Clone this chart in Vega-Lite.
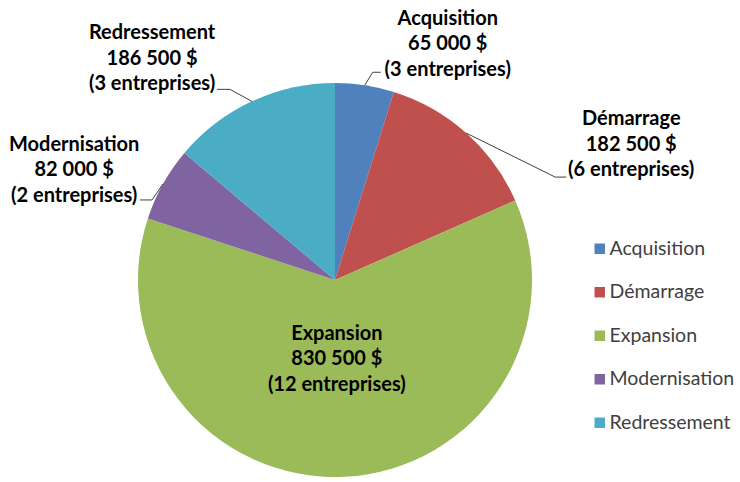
{
  "$schema": "https://vega.github.io/schema/vega-lite/v6.json",
  "autosize": {"type": "none"},
  "padding": {"left": 85, "top": 80, "right": 155, "bottom": 2},
  "width": 500,
  "height": 400,
  "background": "white",
  "config": {
    "view": {"stroke": null},
    "font": "Lato",
    "locale": {"number": {"decimal": ",", "thousands": " ", "grouping": [3], "currency": ["", " $"]}}
  },
  "data": {
    "values": [
      {"categorie": "Acquisition", "montant": 65000, "entreprises": 3},
      {"categorie": "Démarrage", "montant": 182500, "entreprises": 6},
      {"categorie": "Expansion", "montant": 830500, "entreprises": 12},
      {"categorie": "Modernisation", "montant": 82000, "entreprises": 2},
      {"categorie": "Redressement", "montant": 186500, "entreprises": 3}
    ]
  },
  "transform": [
    {"calculate": "datum.categorie + '\\n' + format(datum.montant, ',') + ' $\\n(' + datum.entreprises + ' entreprises)'", "as": "etiquette"}
  ],
  "layer": [
    {
      "mark": {"type": "arc", "outerRadius": 197},
      "encoding": {
        "theta": {"field": "montant", "type": "quantitative", "stack": true},
        "order": {"field": "categorie", "type": "ordinal", "sort": "ascending"},
        "color": {
          "field": "categorie",
          "type": "nominal",
          "scale": {
            "domain": ["Acquisition", "Démarrage", "Expansion", "Modernisation", "Redressement"],
            "range": ["#4F81BD", "#C0504D", "#9BBB59", "#8064A2", "#4BACC6"]
          },
          "legend": {
            "title": null,
            "orient": "none",
            "legendX": 505,
            "legendY": 159,
            "padding": 0,
            "symbolType": "square",
            "symbolSize": 110,
            "symbolStrokeWidth": 0,
            "labelFont": "Lato",
            "labelFontSize": 19.5,
            "labelColor": "#404040",
            "labelOffset": 0,
            "labelLimit": 200,
            "rowPadding": 22.5
          }
        }
      }
    },
    {
      "mark": {"type": "text", "radius": 230, "dx": 78, "dy": -34, "font": "Lato", "fontSize": 20, "fontWeight": "bold", "lineBreak": "\n", "lineHeight": 25.5, "align": "center", "baseline": "middle", "color": "#000000"},
      "encoding": {
        "theta": {"field": "montant", "type": "quantitative", "stack": true},
        "order": {"field": "categorie", "type": "ordinal", "sort": "ascending"},
        "text": {"condition": {"test": "datum.categorie === 'Acquisition'", "field": "etiquette"}, "value": ""}
      }
    },
    {
      "mark": {"type": "text", "radius": 230, "dx": 143, "dy": 11, "font": "Lato", "fontSize": 20, "fontWeight": "bold", "lineBreak": "\n", "lineHeight": 25.5, "align": "center", "baseline": "middle", "color": "#000000"},
      "encoding": {
        "theta": {"field": "montant", "type": "quantitative", "stack": true},
        "order": {"field": "categorie", "type": "ordinal", "sort": "ascending"},
        "text": {"condition": {"test": "datum.categorie === 'Démarrage'", "field": "etiquette"}, "value": ""}
      }
    },
    {
      "mark": {"type": "text", "radius": 78, "dx": -2, "dy": -24, "font": "Lato", "fontSize": 20, "fontWeight": "bold", "lineBreak": "\n", "lineHeight": 25.5, "align": "center", "baseline": "middle", "color": "#000000"},
      "encoding": {
        "theta": {"field": "montant", "type": "quantitative", "stack": true},
        "order": {"field": "categorie", "type": "ordinal", "sort": "ascending"},
        "text": {"condition": {"test": "datum.categorie === 'Expansion'", "field": "etiquette"}, "value": ""}
      }
    },
    {
      "mark": {"type": "text", "radius": 230, "dx": -60, "dy": -23, "font": "Lato", "fontSize": 20, "fontWeight": "bold", "lineBreak": "\n", "lineHeight": 25.5, "align": "center", "baseline": "middle", "color": "#000000"},
      "encoding": {
        "theta": {"field": "montant", "type": "quantitative", "stack": true},
        "order": {"field": "categorie", "type": "ordinal", "sort": "ascending"},
        "text": {"condition": {"test": "datum.categorie === 'Modernisation'", "field": "etiquette"}, "value": ""}
      }
    },
    {
      "mark": {"type": "text", "radius": 230, "dx": -86, "dy": -38, "font": "Lato", "fontSize": 20, "fontWeight": "bold", "lineBreak": "\n", "lineHeight": 25.5, "align": "center", "baseline": "middle", "color": "#000000"},
      "encoding": {
        "theta": {"field": "montant", "type": "quantitative", "stack": true},
        "order": {"field": "categorie", "type": "ordinal", "sort": "ascending"},
        "text": {"condition": {"test": "datum.categorie === 'Redressement'", "field": "etiquette"}, "value": ""}
      }
    },
    {
      "transform": [
        {"joinaggregate": [{"op": "sum", "field": "montant", "as": "total"}]},
        {"window": [{"op": "sum", "field": "montant", "as": "cumul"}], "sort": [{"field": "categorie", "order": "ascending"}], "frame": [null, 0]},
        {"filter": "datum.categorie !== 'Expansion'"},
        {"calculate": "(datum.cumul - datum.montant / 2) / datum.total * 2 * PI", "as": "milieu"},
        {"calculate": "197 * sin(datum.milieu)", "as": "xa"},
        {"calculate": "197 * cos(datum.milieu)", "as": "ya"},
        {"calculate": "datum.xa + (datum.categorie === 'Acquisition' ? 8 : datum.categorie === 'Démarrage' ? 89 : datum.categorie === 'Modernisation' ? -11 : -22)", "as": "xb"},
        {"calculate": "datum.ya + (datum.categorie === 'Acquisition' ? 13 : datum.categorie === 'Démarrage' ? -44 : datum.categorie === 'Modernisation' ? -16 : 12)", "as": "yb"},
        {"calculate": "datum.xb + (datum.categorie === 'Acquisition' ? 8 : datum.categorie === 'Démarrage' ? 11 : datum.categorie === 'Modernisation' ? -12 : -13)", "as": "xc"}
      ],
      "layer": [
        {
          "mark": {"type": "rule", "color": "#404040", "strokeWidth": 1},
          "encoding": {
            "x": {"field": "xa", "type": "quantitative", "scale": {"domain": [-250, 250], "nice": false, "zero": false}, "axis": null},
            "y": {"field": "ya", "type": "quantitative", "scale": {"domain": [-200, 200], "nice": false, "zero": false}, "axis": null},
            "x2": {"field": "xb"},
            "y2": {"field": "yb"}
          }
        },
        {
          "mark": {"type": "rule", "color": "#404040", "strokeWidth": 1},
          "encoding": {
            "x": {"field": "xb", "type": "quantitative", "scale": {"domain": [-250, 250], "nice": false, "zero": false}, "axis": null},
            "y": {"field": "yb", "type": "quantitative", "scale": {"domain": [-200, 200], "nice": false, "zero": false}, "axis": null},
            "x2": {"field": "xc"}
          }
        }
      ]
    }
  ]
}
